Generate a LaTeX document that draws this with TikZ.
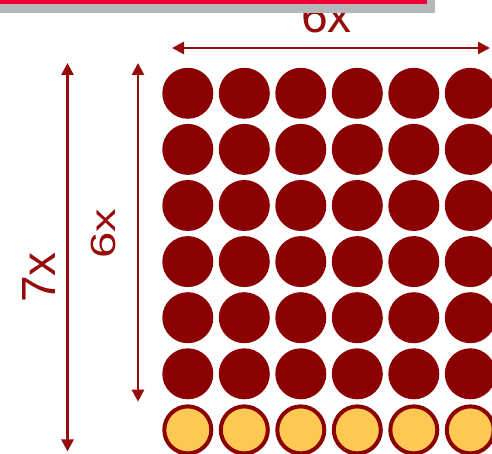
\documentclass[tikz,border=0pt]{standalone}
\usepackage{fontspec}
\setmainfont{Liberation Sans}
\usetikzlibrary{arrows.meta}
\definecolor{dred}{RGB}{139,0,0}
\definecolor{ared}{RGB}{150,12,12}
\definecolor{gold}{RGB}{255,200,82}
\definecolor{barred}{RGB}{238,0,52}
\definecolor{bargray}{RGB}{180,184,184}
\begin{document}
\begin{tikzpicture}[x=1pt,y=1pt,
  dot/.style={circle, fill=dred, minimum size=51pt, inner sep=0pt},
  gdot/.style={circle, fill=gold, draw=dred, line width=4pt, minimum size=47pt, inner sep=0pt},
  dim/.style={draw=ared, line width=2.6pt, {Triangle[length=12pt,width=12pt]}-{Triangle[length=12pt,width=12pt]}},
  lbl/.style={text=ared, inner sep=0pt}]
\useasboundingbox (0,0) rectangle (492,454);
\clip (0,0) rectangle (492,454);
% top label (partly hidden by bar)
\node[lbl, font=\fontsize{48}{48}\selectfont, anchor=base] (t6) at (326.5,421) {6x};
% bar
\fill[bargray] (0,441) rectangle (435,454);
\fill[barred] (0,449.5) rectangle (427,454);
% circles
\foreach \r in {1,...,6}{
  \foreach \c in {1,...,6}{
    \pgfmathsetmacro{\cx}{187.8+(\c-1)*56.5}
    \pgfmathsetmacro{\cy}{454-(93.3+(\r-1)*56.1)}
    \node[dot] (c\r-\c) at (\cx,\cy) {};
  }
}
\foreach \c in {1,...,6}{
  \pgfmathsetmacro{\cx}{187.8+(\c-1)*56.5}
  \pgfmathsetmacro{\cy}{454-(93.3+6*56.1)}
  \node[gdot] (c7-\c) at (\cx,\cy) {};
}
% dimension arrows
\coordinate (h1) at (172,406);
\coordinate (h2) at (490,406);
\draw[dim] (h1) -- (h2);
\coordinate (s1) at (67.5,391);
\coordinate (s2) at (67.5,2.5);
\draw[dim] (s1) -- (s2);
\coordinate (u1) at (138,391);
\coordinate (u2) at (138,52.3);
\draw[dim] (u1) -- (u2);
% side labels
\node[lbl, font=\fontsize{48}{48}\selectfont, rotate=90, anchor=base] (t7) at (55,176.5) {7x};
\node[lbl, font=\fontsize{35}{35}\selectfont, rotate=90, anchor=base] (l6) at (115,220.5) {\scalebox{1.35}[1]{6x}};
\end{tikzpicture}
\end{document}
